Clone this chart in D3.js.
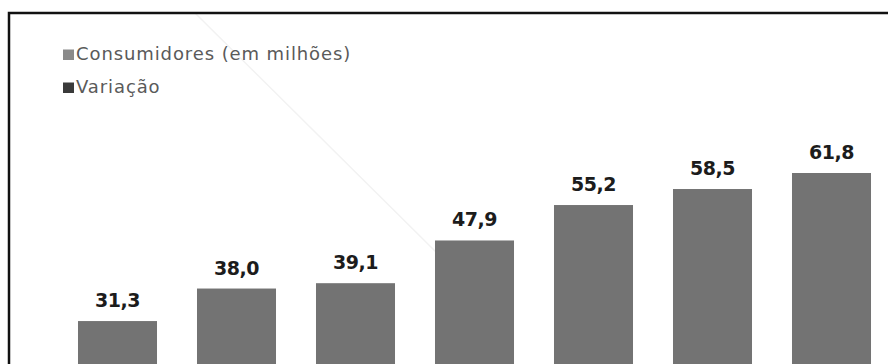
<!DOCTYPE html>
<html>
<head>
<meta charset="utf-8">
<script src="https://cdn.jsdelivr.net/npm/d3@7"></script>
<style>
  html, body { margin: 0; padding: 0; background: #fff; }
  svg { display: block; }
</style>
</head>
<body>
<svg id="chart" width="888" height="364"></svg>
<script>
// Consumers per period, in millions
const periods = ["P1", "P2", "P3", "P4", "P5", "P6", "P7"];
const consumidores = [31.3, 38.0, 39.1, 47.9, 55.2, 58.5, 61.8];
const legendLabels = ["Consumidores (em milhões)", "Variação"];
const legendColors = ["#8a8a8a", "#3a3a3a"];

const W = 888, H = 364;
const svg = d3.select("#chart");

const x = d3.scaleBand()
  .domain(periods)
  .range([58, 891])
  .paddingInner(0.336)
  .paddingOuter(0.168);

const y = d3.scaleLinear()
  .domain([0, d3.max(consumidores)])
  .range([473, 173]);

const fmt = v => d3.format(".1f")(v).replace(".", ",");

// faint diagonal stroke in the background
svg.append("line")
  .attr("x1", 195).attr("y1", 13)
  .attr("x2", 436).attr("y2", 252)
  .attr("stroke", "#f2f2f2")
  .attr("stroke-width", 1.5);

// frame: left and top edges
svg.append("path")
  .attr("d", "M9,364 L9,13 L888,13")
  .attr("fill", "none")
  .attr("stroke", "#111")
  .attr("stroke-width", 2.5);

// bars
svg.append("g")
  .selectAll("rect")
  .data(consumidores)
  .join("rect")
  .attr("x", (d, i) => x(periods[i]))
  .attr("y", d => y(d))
  .attr("width", x.bandwidth())
  .attr("height", d => y(0) - y(d))
  .attr("fill", "#737373");

// value labels
svg.append("g")
  .selectAll("text")
  .data(consumidores)
  .join("text")
  .attr("x", (d, i) => x(periods[i]) + x.bandwidth() / 2)
  .attr("y", d => y(d) - 14)
  .attr("text-anchor", "middle")
  .attr("font-family", "'DejaVu Sans', sans-serif")
  .attr("font-weight", 700)
  .attr("font-size", 19)
  .attr("letter-spacing", -0.5)
  .attr("fill", "#1c1c1c")
  .text(d => fmt(d));

// legend
const legend = svg.append("g")
  .selectAll("g")
  .data(legendLabels)
  .join("g")
  .attr("transform", (d, i) => `translate(63, ${60 + i * 33})`);

legend.append("rect")
  .attr("x", 0).attr("y", -10.5)
  .attr("width", 11).attr("height", 10.5)
  .attr("fill", (d, i) => legendColors[i]);

legend.append("text")
  .attr("x", 13)
  .attr("y", 0)
  .attr("font-family", "'DejaVu Sans', sans-serif")
  .attr("font-size", 18)
  .attr("letter-spacing", 0.9)
  .attr("fill", "#5a5a5a")
  .text(d => d);
</script>
</body>
</html>
